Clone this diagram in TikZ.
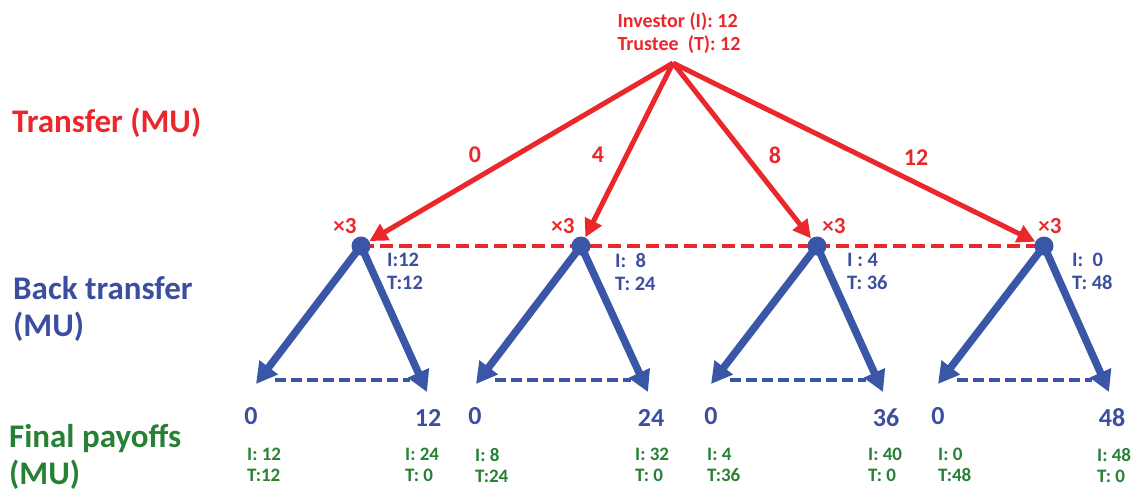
\documentclass[tikz,border=0pt]{standalone}
\usepackage{fontspec}
\setmainfont{Carlito}
\usetikzlibrary{arrows.meta,calc}
\definecolor{myred}{RGB}{234,40,44}
\definecolor{myblue}{RGB}{58,86,166}
\definecolor{txtblue}{RGB}{60,78,160}
\definecolor{mygreen}{RGB}{40,128,52}
\begin{document}
\begin{tikzpicture}[x=1pt,y=-1pt,
  redarrow/.style={myred, line width=5pt, -{Triangle[length=18pt,width=18pt]}},
  redlink/.style={myred, line width=3.5pt, dash pattern=on 13pt off 6pt},
  bluearrow/.style={myblue, line width=7.5pt, -{Triangle[length=21pt,width=22pt]}},
  bluelink/.style={myblue, line width=4pt, dash pattern=on 11pt off 5pt},
  dot/.style={circle, fill=myblue, inner sep=0pt, minimum size=19pt},
  bigred/.style={myred, font=\fontsize{33}{37}\selectfont\bfseries, anchor=base west, inner sep=0pt},
  sidelab/.style={font=\fontsize{33}{37}\selectfont\bfseries, anchor=north west, align=left, inner sep=0pt},
  toplab/.style={myred, font=\fontsize{20}{23.5}\selectfont\bfseries, align=left, inner sep=0pt},
  amt/.style={myred, font=\fontsize{24}{28}\selectfont\bfseries, inner sep=0pt},
  times/.style={myred, font=\fontsize{23}{26}\selectfont\bfseries, inner sep=0pt},
  backlab/.style={txtblue, font=\fontsize{20.5}{23}\selectfont\bfseries, align=left, anchor=north west, inner sep=0pt},
  leafnum/.style={txtblue, font=\fontsize{26}{30}\selectfont\bfseries, inner sep=0pt},
  paylab/.style={mygreen, font=\fontsize{19}{21}\selectfont\bfseries, align=left, anchor=north west, inner sep=0pt}
]
\useasboundingbox (0,0) rectangle (1137,501);

% left side labels
\node[bigred] (ltransfer) at (12,132) {Transfer (MU)};
\node[sidelab, txtblue] (lback) at (13,276) {Back transfer\\(MU)};
\node[sidelab, mygreen] (lfinal) at (9,424) {Final payoffs\\(MU)};

% root
\node[toplab] (roottext) at (679,33) {Investor (I): 12\\Trustee\ \ (T): 12};
\coordinate (root) at (673,63);

% second level nodes
\coordinate (p1) at (361,246);
\coordinate (p2) at (581,246);
\coordinate (p3) at (817,246);
\coordinate (p4) at (1044,246);

% red dashed information set (drawn first)
\draw[redlink] (p1) -- (p4);

% leaves
\coordinate (a1) at (256,384); \coordinate (b1) at (427,392);
\coordinate (a2) at (476,384); \coordinate (b2) at (648,392);
\coordinate (a3) at (711,384); \coordinate (b3) at (883,392);
\coordinate (a4) at (938,384); \coordinate (b4) at (1109,392);

% blue back-transfer branches
\foreach \k in {1,2,3,4}{
  \draw[bluearrow] (p\k) -- (a\k);
  \draw[bluearrow] (p\k) -- (b\k);
  \draw[bluelink] ($(a\k)+(19,-4)$) -- ($(a\k -| b\k)+(-17,-4)$);
}

% dots
\node[dot] (n1) at (p1) {};
\node[dot] (n2) at (p2) {};
\node[dot] (n3) at (p3) {};
\node[dot] (n4) at (p4) {};

% red transfer arrows
\draw[redarrow] (root) -- (n1);
\draw[redarrow] (root) -- (n2);
\draw[redarrow] (root) -- (n3);
\draw[redarrow] (root) -- (n4);

% transfer amounts
\node[amt] (t0) at (475,155) {0};
\node[amt] (t4) at (598,155) {4};
\node[amt] (t8) at (775,155) {8};
\node[amt] (t12) at (916,158) {12};

% x3 labels
\node[times] (x1) at (345,226) {×3};
\node[times] (x2) at (563,226) {×3};
\node[times] (x3) at (834,226) {×3};
\node[times] (x4) at (1050,226) {×3};

% back-transfer state labels
\node[backlab] (s1) at (387,253) {I:12\\T:12};
\node[backlab] (s2) at (615,253) {I:\ \ 8\\T: 24};
\node[backlab] (s3) at (847,253) {I : 4\\T: 36};
\node[backlab] (s4) at (1072,253) {I:\ \ 0\\T: 48};

% leaf amounts
\node[leafnum] (v1a) at (251,416) {0};
\node[leafnum] (v1b) at (428,418) {12};
\node[leafnum] (v2a) at (475,416) {0};
\node[leafnum] (v2b) at (651,418) {24};
\node[leafnum] (v3a) at (711,416) {0};
\node[leafnum] (v3b) at (886,418) {36};
\node[leafnum] (v4a) at (938,416) {0};
\node[leafnum] (v4b) at (1112,418) {48};

% final payoffs
\node[paylab] (f1a) at (247,448) {I: 12\\T:12};
\node[paylab] (f1b) at (405,448) {I: 24\\T: 0};
\node[paylab] (f2a) at (475,448) {I: 8\\T:24};
\node[paylab] (f2b) at (635,448) {I: 32\\T: 0};
\node[paylab] (f3a) at (707,448) {I: 4\\T:36};
\node[paylab] (f3b) at (868,448) {I: 40\\T: 0};
\node[paylab] (f4a) at (938,448) {I: 0\\T:48};
\node[paylab] (f4b) at (1097,448) {I: 48\\T: 0};
\end{tikzpicture}
\end{document}
